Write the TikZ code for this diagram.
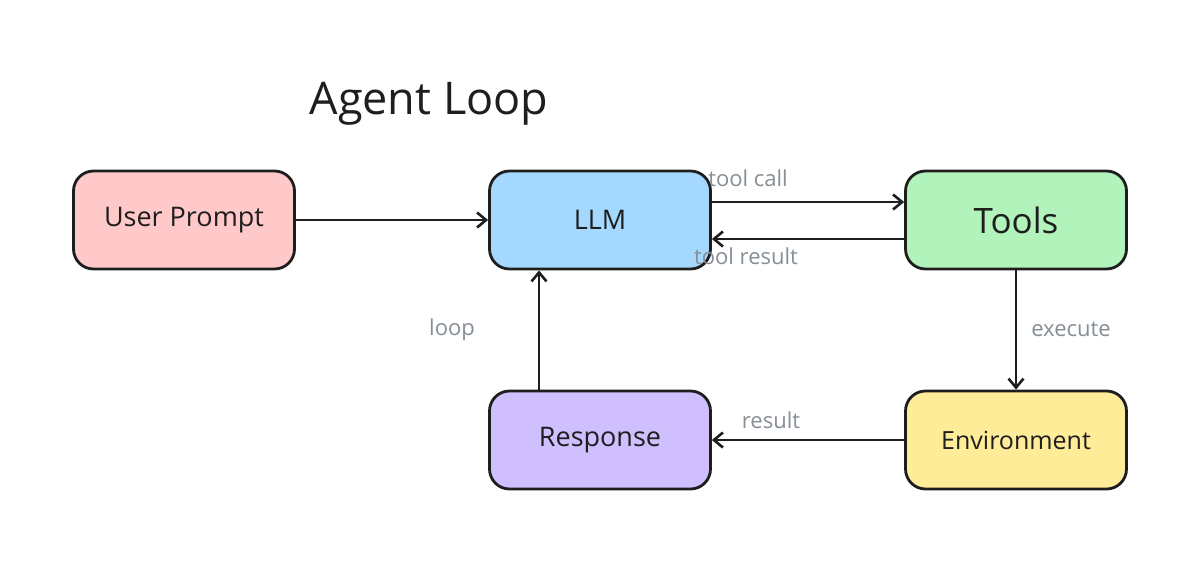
\documentclass[tikz,border=0pt]{standalone}
\usepackage{fontspec}
\setmainfont{Open Sans}
\usetikzlibrary{arrows.meta}
\definecolor{cUser}{HTML}{FFC9C9}
\definecolor{cLLM}{HTML}{A5D8FF}
\definecolor{cTools}{HTML}{B2F2BB}
\definecolor{cResp}{HTML}{D0BFFF}
\definecolor{cEnv}{HTML}{FFEC99}
\definecolor{cInk}{HTML}{1E1E1E}
\definecolor{cLabel}{HTML}{868E96}
\tikzset{
  box/.style={draw=cInk, line width=2.8pt, rounded corners=20pt, minimum width=221pt, minimum height=98pt, inner sep=0pt, text=cInk, font=\fontsize{27}{30}\selectfont},
  conn/.style={draw=cInk, line width=2.8pt, -{Straight Barb[length=9pt,width=15pt,line width=2.6pt]}},
  lab/.style={text=cLabel, font=\fontsize{22}{26}\selectfont, inner sep=0pt},
}
\begin{document}
\begin{tikzpicture}[x=1pt,y=-1pt]
\useasboundingbox (0,0) rectangle (1200,563);
\fill[white] (0,0) rectangle (1200,563);
\node[text=cInk, font=\fontsize{45}{50}\selectfont] (title) at (429,104) {Agent Loop};
\node[box, fill=cUser] (user) at (184,220) {User Prompt};
\node[box, fill=cLLM] (llm) at (600,220) {LLM};
\node[box, fill=cTools, font=\fontsize{35}{40}\selectfont] (tools) at (1016,220) {Tools};
\node[box, fill=cResp] (resp) at (600,440) {Response};
\node[box, fill=cEnv, font=\fontsize{25}{28}\selectfont] (env) at (1016,440) {Environment};
\draw[conn] (user.east) -- (llm.west);
\draw[conn] ([yshift=18pt]llm.east) -- ([yshift=18pt]tools.west);
\draw[conn] ([yshift=-19pt]tools.west) -- ([yshift=-19pt]llm.east);
\draw[conn] (tools.south) -- (env.north);
\draw[conn] (env.west) -- (resp.east);
\draw[conn] ([xshift=-61pt]resp.north) -- ([xshift=-61pt]llm.south);
\node[lab] (ltc) at (748,178) {tool call};
\node[lab] (ltr) at (746,256) {tool result};
\node[lab] (lex) at (1071,329) {execute};
\node[lab] (lre) at (771,420) {result};
\node[lab] (llo) at (452,330) {loop};
\end{tikzpicture}
\end{document}
